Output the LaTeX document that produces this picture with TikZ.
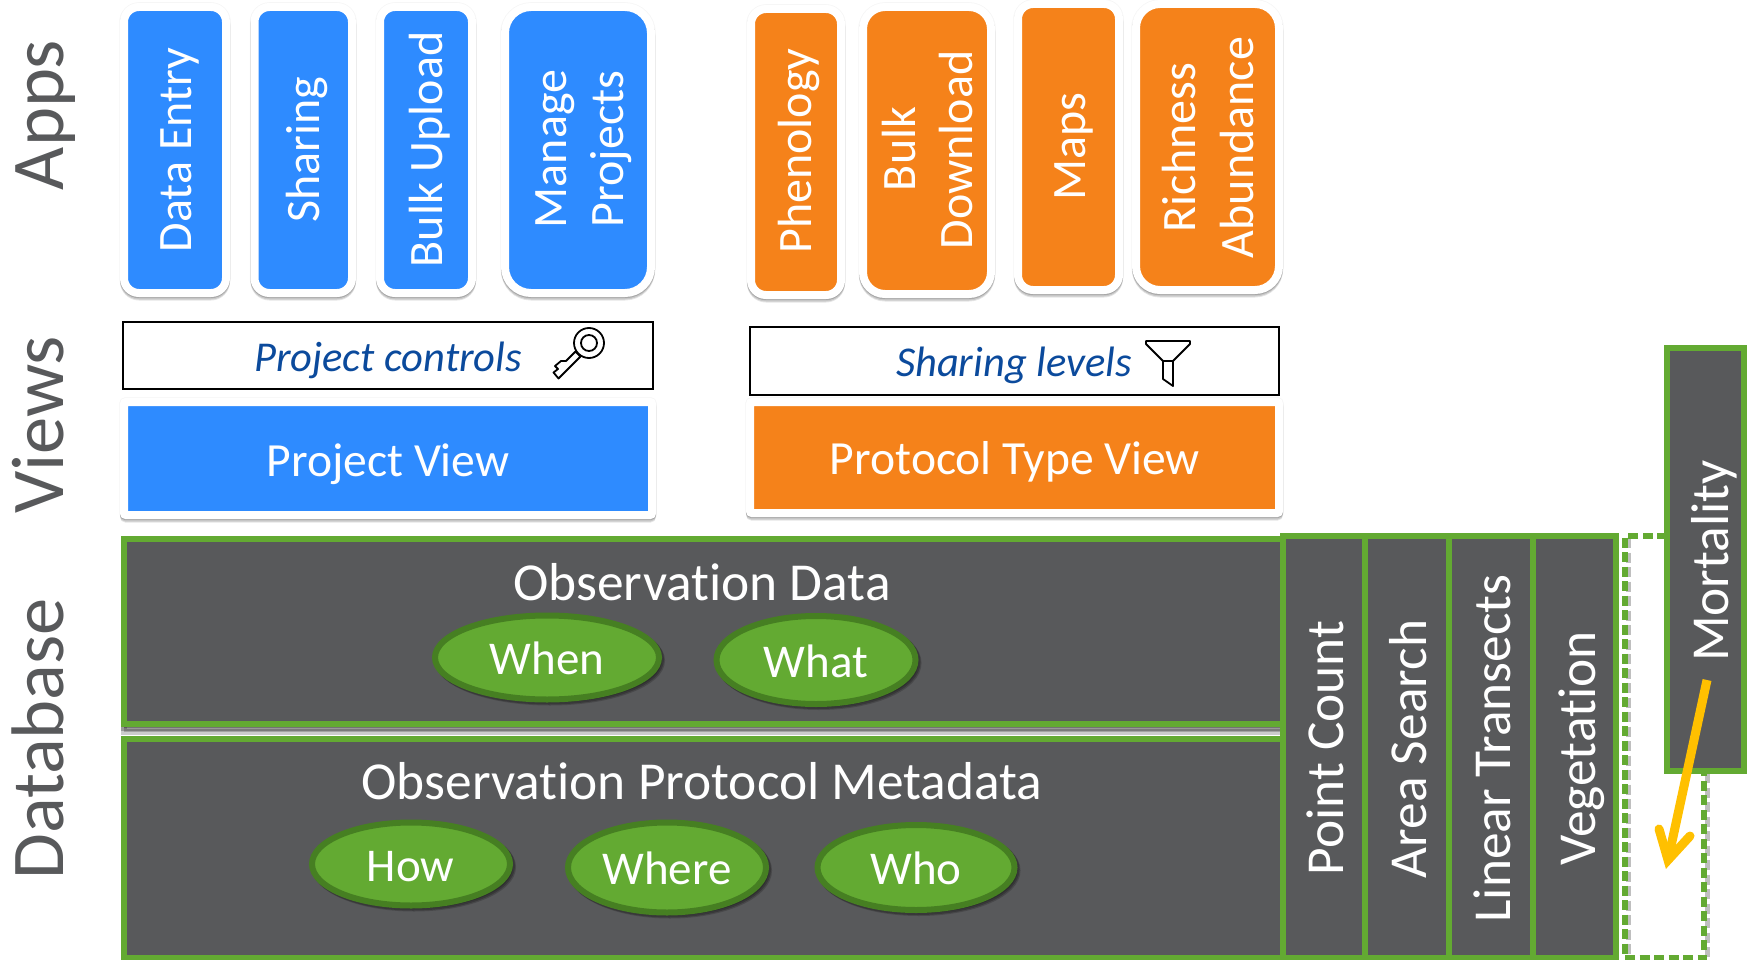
\documentclass[tikz,border=0pt]{standalone}
\usepackage{fontspec}
\setmainfont[Ligatures=NoCommon]{Carlito}
\usetikzlibrary{shadows,arrows.meta,shapes.geometric}
\definecolor{appblue}{HTML}{2E8BFF}
\definecolor{apporange}{HTML}{F5821A}
\definecolor{slate}{HTML}{58595B}
\definecolor{leaf}{HTML}{63AA32}
\definecolor{leafdark}{HTML}{467F22}
\definecolor{inkblue}{HTML}{0B4A9C}
\definecolor{amber}{HTML}{FFC000}
\tikzset{
  softshadow/.style={
    general shadow={shadow xshift=0pt,shadow yshift=0pt,draw=black,line width=9.5pt,fill=black,opacity=.04},
    general shadow={shadow xshift=0pt,shadow yshift=-3.5pt,draw=black,fill=black,opacity=.10},
    general shadow={shadow xshift=0pt,shadow yshift=-2.5pt,draw=black,fill=black,opacity=.12},
    general shadow={shadow xshift=0pt,shadow yshift=-1.2pt,draw=black,fill=black,opacity=.14}},
  appbox/.style={softshadow,draw=white,line width=8pt,rounded corners=#1,inner sep=0pt,outer sep=0pt},
  appbox/.default=15pt,
  bluebox/.style={appbox=#1,fill=appblue},
  bluebox/.default=15pt,
  orangebox/.style={appbox=#1,fill=apporange},
  orangebox/.default=15pt,
  dbbox/.style={draw=leaf,fill=slate,line width=6pt,inner sep=0pt,outer sep=0pt},
  ctrlbox/.style={draw=black,fill=white,line width=1.6pt,inner sep=0pt,outer sep=0pt},
  applabel/.style={inner sep=0pt,text height=34pt,text depth=10pt,white,rotate=90,font=\fontsize{48}{58}\selectfont},
  viewlabel/.style={inner sep=0pt,text height=34pt,text depth=10pt,white,font=\fontsize{47.6}{56}\selectfont},
  dblabel/.style={inner sep=0pt,text height=37pt,text depth=11pt,white,rotate=90,font=\fontsize{53.4}{60}\selectfont},
  sidelabel/.style={inner sep=0pt,text height=52pt,text depth=15pt,slate,rotate=90,font=\fontsize{74.5}{88}\selectfont},
  titlelabel/.style={inner sep=0pt,text height=37pt,text depth=11pt,white,font=\fontsize{53.4}{62}\selectfont},
  ctrllabel/.style={inner sep=0pt,text height=30pt,text depth=9pt,inkblue,font=\itshape\fontsize{42.5}{52}\selectfont},
  oval/.style={ellipse,draw=leafdark,fill=leaf,line width=6pt,inner sep=0pt,outer sep=0pt,
    general shadow={shadow xshift=3pt,shadow yshift=-3pt,draw=black,fill=black,opacity=.18},
    general shadow={shadow xshift=2pt,shadow yshift=-2pt,draw=black,fill=black,opacity=.22}},
  ovaltext/.style={inner sep=0pt,text height=33pt,text depth=9pt,white,font=\fontsize{47}{55}\selectfont},
  dashline/.style={draw=leaf,line width=6pt,dash pattern=on 10pt off 4.5pt},
  dashshade/.style={draw=black!25,line width=5pt,dash pattern=on 10pt off 4.5pt},
  icon/.style={draw=black,line width=1.8pt,fill=white,line join=round},
}
\newcommand{\corners}[6]{% style, name, x1,y1,x2,y2 = path corners
  \pgfmathsetmacro{\cw}{#5-#3}\pgfmathsetmacro{\ch}{#6-#4}
  \pgfmathsetmacro{\cx}{(#3+#5)/2}\pgfmathsetmacro{\cy}{(#4+#6)/2}
  \node[#1,minimum width=\cw pt,minimum height=\ch pt] (#2) at (\cx,\cy) {};}
\begin{document}
\begin{tikzpicture}[x=1pt,y=-1pt]
\useasboundingbox (0,0) rectangle (1747,960);
\clip (0,0) rectangle (1747,960);
% side labels
\node[sidelabel] (lapps) at (44.5,115) {Apps};
\node[sidelabel] (lviews) at (44.5,425) {Views};
\node[sidelabel] (ldb) at (44.5,739) {Database};
% blue apps
\corners{bluebox}{b1}{124}{7}{226}{293}
\corners{bluebox}{b2}{254.5}{7}{352}{293}
\corners{bluebox}{b3}{380}{7}{472}{293}
\corners{bluebox=26pt}{b4}{505}{7}{651}{293}
\node[applabel] (t1) at (179,150) {Data Entry};
\node[applabel] (t2) at (307.5,150) {Sharing};
\node[applabel] (t3) at (430,149.5) {Bulk Upload};
\node[applabel] (t4a) at (554,149) {Manage};
\node[applabel] (t4b) at (611,149) {Projects};
% orange apps
\corners{orangebox}{o1}{751}{9}{841}{295}
\corners{orangebox=22pt}{o2}{863}{7}{991}{294}
\corners{orangebox}{o3}{1018}{4}{1119}{290}
\corners{orangebox=24pt}{o4}{1136}{4}{1279}{290}
\node[applabel] (u1) at (799,151) {Phenology};
\node[applabel] (u2a) at (903,149) {Bulk};
\node[applabel] (u2b) at (960,150) {Download};
\node[applabel] (u3) at (1073,147) {Maps};
\node[applabel] (u4a) at (1183,147.5) {Richness};
\node[applabel] (u4b) at (1241,147.5) {Abundance};
% controls
\corners{ctrlbox}{pc}{123}{322}{653}{389}
\node[ctrllabel] (pct) at (388,360.5) {Project controls};
\corners{ctrlbox}{sl}{750}{327}{1279}{395}
\node[ctrllabel] (slt) at (1014,366) {Sharing levels};
% key icon
\path[icon] (575.5,351.5) -- (566,361) -- (561,361) -- (555,366) -- (558,369) -- (553.5,372.5) -- (558.5,378.5) -- (580.5,356.5) -- cycle;
\path[icon,even odd rule] (589,343) circle[radius=15] (589,343) circle[radius=8];
% funnel icon
\path[icon,fill=none] (1163,361) -- (1146,344) -- (1146,341) -- (1190,341) -- (1190,344) -- (1173,361) -- cycle;
\path[icon,fill=none] (1163,361) -- (1163,379) -- (1173,386) -- (1173,361);
% views
\corners{bluebox=2pt}{pv}{124}{402}{652}{515}
\node[viewlabel] (pvt) at (388,464.5) {Project View};
\corners{orangebox=2pt}{tv}{750}{402}{1279}{513}
\node[viewlabel] (tvt) at (1015,462.5) {Protocol Type View};
% dashed frame
\coordinate (da) at (1625,536); \coordinate (db) at (1667,536);
\coordinate (dc) at (1625,958); \coordinate (dd) at (1704,958); \coordinate (de) at (1704,771);
\draw[dashshade] ([xshift=3pt,yshift=-2pt]da) -- ([xshift=3pt,yshift=-2pt]dc);
\draw[dashshade] ([xshift=3pt,yshift=-2pt]de) -- ([xshift=3pt,yshift=-2pt]dd);
\draw[dashline] (db) -- (da) -- (dc) -- (dd) -- (de);
% database
\corners{dbbox,general shadow={shadow xshift=0pt,shadow yshift=-8pt,draw=black,fill=black,opacity=.2},general shadow={shadow xshift=0pt,shadow yshift=-4pt,draw=black,fill=black,opacity=.25}}{od}{124}{539}{1283}{724}
\corners{dbbox}{om}{124}{739}{1283}{958}
\corners{dbbox}{c1}{1283}{536}{1365}{958}
\corners{dbbox}{c2}{1365}{536}{1449}{958}
\corners{dbbox}{c3}{1449}{536}{1533}{958}
\corners{dbbox}{c4}{1533}{536}{1616}{958}
\corners{dbbox}{mort}{1667}{348}{1744}{771}
\node[titlelabel] (odt) at (702,587.5) {Observation Data};
\node[titlelabel] (omt) at (702,786.5) {Observation Protocol Metadata};
\node[oval,minimum width=224pt,minimum height=84pt] (when) at (547,657.5) {};
\node[oval,minimum width=199pt,minimum height=88pt] (what) at (816,660) {};
\node[oval,minimum width=198pt,minimum height=83pt] (how) at (411,864) {};
\node[oval,minimum width=198pt,minimum height=90pt] (where) at (667,867.5) {};
\node[oval,minimum width=197pt,minimum height=85pt] (who) at (916,867.5) {};
\node[ovaltext] (whent) at (547,662) {When};
\node[ovaltext] (whatt) at (816,665) {What};
\node[ovaltext] (howt) at (410.5,869.5) {How};
\node[ovaltext] (wheret) at (667,872) {Where};
\node[ovaltext] (whot) at (916,872) {Who};
\node[dblabel] (c1t) at (1330,748) {Point Count};
\node[dblabel] (c2t) at (1413,749) {Area Search};
\node[dblabel] (c3t) at (1497,748.5) {Linear Transects};
\node[dblabel] (c4t) at (1582,748.5) {Vegetation};
\node[dblabel] (mt) at (1715,561) {Mortality};
% arrow
\coordinate (as) at (1707,680); \coordinate (ae) at (1668,860);
\coordinate (ah1) at (1659,829); \coordinate (ah2) at (1690,836);
\draw[amber,line width=9pt] (as) -- (ae);
\draw[amber,line width=9pt,line cap=round,line join=miter] (ah1) -- (ae) -- (ah2);
\end{tikzpicture}
\end{document}
